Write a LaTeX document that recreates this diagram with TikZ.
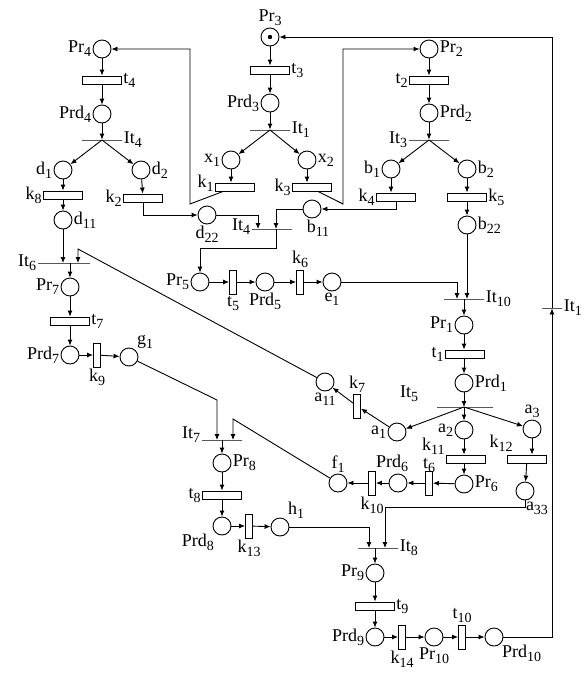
\documentclass[tikz,border=0pt]{standalone}
\usepackage{fontspec}
\setmainfont{Liberation Serif}
\usetikzlibrary{arrows.meta,positioning}
\newcommand{\sub}[1]{\raisebox{-4pt}{\fontsize{14}{14}\selectfont#1}}

\begin{document}
\begin{tikzpicture}[
 x=1pt, y=-1pt, >={Latex[length=6pt,width=5pt]}, line width=0.9pt,
 font=\fontsize{18}{20}\selectfont,
 place/.style={draw, circle, minimum size=18pt, inner sep=0pt},
 hbar/.style={draw, rectangle, minimum width=39pt, minimum height=8pt, inner sep=0pt},
 vbar/.style={draw, rectangle, minimum width=7pt, minimum height=24pt, inner sep=0pt},
 imm/.style={draw, rectangle, minimum width=40pt, minimum height=0pt, inner sep=0pt},
 every label/.style={inner sep=1pt},
 every edge/.style={draw, ->}]
\useasboundingbox (0,0) rectangle (586,675);
% left branch
\node[place, label=left:Pr\sub{4}] (Pr4) at (102,49) {};
\node[hbar, label=right:t\sub{4}] (t4) at (102,80) {};
\node[place, label=left:Prd\sub{4}] (Prd4) at (102,114) {};
\node[imm, label=right:It\sub{4}] (It4a) at (102,140) {};
\node[place, label=left:d\sub{1}] (d1) at (63,170) {};
\node[place, label=right:d\sub{2}] (d2) at (141,170) {};
\node[hbar, label=left:k\sub{8}] (k8) at (63,195) {};
\node[hbar, label=left:k\sub{2}] (k2) at (143,198) {};
\node[place, label=right:d\sub{11}] (d11) at (63,220) {};
% Pr3 branch
\node[place, label=above:Pr\sub{3}] (Pr3) at (270,37) {};
\fill (Pr3) circle (2.2pt);
\node[hbar, label=right:t\sub{3}] (t3) at (270,70) {};
\node[place, label=left:Prd\sub{3}] (Prd3) at (270,103) {};
\node[imm, label=right:It\sub{1}] (It1) at (270,130) {};
\node[place, label=left:x\sub{1}] (x1) at (231,160) {};
\node[place, label=right:x\sub{2}] (x2) at (307,160) {};
\node[hbar, label={[yshift=4pt]left:k\sub{1}}] (k1) at (235,187) {};
\node[hbar, label=left:k\sub{3}] (k3) at (312,187) {};
\node[place, label=below:d\sub{22}] (d22) at (207,215) {};
\node[place, label={[xshift=6pt]below:b\sub{11}}] (b11) at (312,209) {};
\node[imm, label={[yshift=2pt]left:It\sub{4}}] (It4b) at (272,229) {};
\coordinate (cL) at (190,204);
\coordinate (cR) at (343,204);
% Pr2 branch
\node[place, label=right:Pr\sub{2}] (Pr2) at (429,49) {};
\node[hbar, label=left:t\sub{2}] (t2) at (429,80) {};
\node[place, label=right:Prd\sub{2}] (Prd2) at (429,113) {};
\node[imm, label=left:It\sub{3}] (It3) at (429,140) {};
\node[place, label=left:b\sub{1}] (b1) at (391,169) {};
\node[place, label=right:b\sub{2}] (b2) at (467,169) {};
\node[hbar, label=left:k\sub{4}] (k4) at (396,197) {};
\node[hbar, label=right:k\sub{5}] (k5) at (467,197) {};
\node[place, label=right:b\sub{22}] (b22) at (467,225) {};
% middle row
\node[place, label=left:Pr\sub{5}] (Pr5) at (200,282) {};
\node[vbar, label=below:t\sub{5}] (t5) at (233,282) {};
\node[place, label=below:Prd\sub{5}] (Prd5) at (265,282) {};
\node[vbar, label=above:k\sub{6}] (k6) at (300,282) {};
\node[place, label=below:e\sub{1}] (e1) at (332,282) {};
% Pr1 column
\node[imm, label=right:It\sub{10}] (It10) at (464,299) {};
\node[place, label=left:Pr\sub{1}] (Pr1) at (464,325) {};
\node[hbar, label=left:t\sub{1}] (t1) at (465,354) {};
\node[place, label=right:Prd\sub{1}] (Prd1) at (464,383) {};
\node[imm, minimum width=56pt, label={[xshift=-45pt, yshift=3pt]above left:It\sub{5}}] (It5) at (465,407) {};
\node[place, label=left:a\sub{1}] (a1) at (397,432) {};
\node[place, label=left:a\sub{2}] (a2) at (464,430) {};
\node[place, label=above:a\sub{3}] (a3) at (532,429) {};
\node[vbar, label=above:k\sub{7}] (k7) at (357,406) {};
\node[place, label=below:a\sub{11}] (a11) at (325,382) {};
\node[hbar, label={[yshift=13pt]left:k\sub{11}}] (k11) at (466,459) {};
\node[hbar, label={[xshift=7pt, yshift=16pt]left:k\sub{12}}] (k12) at (527,459) {};
\node[place, label=right:Pr\sub{6}] (Pr6) at (464,484) {};
\node[place, label={[xshift=12pt]below:a\sub{33}}] (a33) at (525,491) {};
\node[vbar, label={[yshift=-4pt]above:t\sub{6}}] (t6) at (429,483) {};
\node[place, label={[xshift=-6pt]above:Prd\sub{6}}] (Prd6) at (398,483) {};
\node[vbar, label=below:k\sub{10}] (k10) at (372,483) {};
\node[place, label=above:f\sub{1}] (f1) at (338,483) {};
% Pr7 column
\node[imm, minimum width=52pt, label=left:It\sub{6}] (It6) at (64,263) {};
\node[place, label=left:Pr\sub{7}] (Pr7) at (70,287) {};
\node[hbar, label=right:t\sub{7}] (t7) at (70,321) {};
\node[place, label=left:Prd\sub{7}] (Prd7) at (70,355) {};
\node[vbar, label=below:k\sub{9}] (k9) at (97,355) {};
\node[place, label=above right:g\sub{1}] (g1) at (129,357) {};
\coordinate (cA) at (78,249);
% Pr8 column
\coordinate (cG) at (217,400);
\coordinate (cF) at (233,419);
\node[imm, label={[yshift=5pt]left:It\sub{7}}] (It7) at (222,440) {};
\node[place, label=right:Pr\sub{8}] (Pr8) at (222,463) {};
\node[hbar, label=left:t\sub{8}] (t8) at (222,495) {};
\node[place, label=below left:Prd\sub{8}] (Prd8) at (222,526) {};
\node[vbar, label=below:k\sub{13}] (k13) at (249,526) {};
\node[place, label=above right:h\sub{1}] (h1) at (280,527) {};
% bottom row
\node[imm, label=right:It\sub{8}] (It8) at (378,548) {};
\node[place, label=left:Pr\sub{9}] (Pr9) at (375,573) {};
\node[hbar, label=right:t\sub{9}] (t9) at (375,606) {};
\node[place, label=left:Prd\sub{9}] (Prd9) at (375,637) {};
\node[vbar, label=below:k\sub{14}] (k14) at (402,637) {};
\node[place, label=below:Pr\sub{10}] (Pr10) at (434,637) {};
\node[vbar, label=above:t\sub{10}] (t10) at (462,637) {};
\node[place, label=below right:Prd\sub{10}] (Prd10) at (494,637) {};
\node[imm, minimum width=20pt, label=right:It\sub{1}] (It1r) at (552,308) {};

% arcs
\draw (Pr4) edge (t4) (t4) edge (Prd4) (Prd4) edge (It4a);
\draw (It4a.center) edge (d1) (It4a.center) edge (d2);
\draw (d1) edge (k8) (k8) edge (d11) (d11) edge (d11 |- It6) (d2) edge (k2);
\draw[->] (k2) |- (d22);
\draw[->] (d22) -| ([xshift=-14pt]It4b.center);
\draw[->] (b11) -| ([xshift=4pt]It4b.center);
\draw[->] ([xshift=4pt]It4b.center) -- ++(0,19) -| (Pr5);
\draw (Pr3) edge (t3) (t3) edge (Prd3) (Prd3) edge (It1);
\draw (It1.center) edge (x1) (It1.center) edge (x2);
\draw (x1) edge (x1 |- k1.north) (x2) edge (x2 |- k3.north);
\draw[->] ([xshift=8pt]k1.south west) -- (cL) |- (Pr4);
\draw[->] ([xshift=-14pt]k3.south east) -- (cR) |- (Pr2);
\draw (Pr2) edge (t2) (t2) edge (Prd2) (Prd2) edge (It3);
\draw (It3.center) edge (b1) (It3.center) edge (b2);
\draw (b1) edge (b1 |- k4.north) (b2) edge (k5) (k5) edge (b22);
\draw[->] (k4) |- (b11);
\draw (Pr5) edge (t5) (t5) edge (Prd5) (Prd5) edge (k6) (k6) edge (e1);
\draw[->] (e1) -| ([xshift=-7pt]It10.center);
\draw (b22) edge (b22 |- It10) (It10.center) edge (Pr1);
\draw (Pr1) edge (Pr1 |- t1.north) (Pr1 |- t1.south) edge (Prd1) (Prd1) edge (Prd1 |- It5);
\draw (It5.center -| Prd1) edge (a1) (It5.center -| Prd1) edge (a2) (It5.center -| Prd1) edge (a3);
\draw (a1) edge (k7) (k7) edge (a11);
\draw[->] (a11) -- (cA) -- ([xshift=14pt]It6.center);
\draw (a2) edge (a2 |- k11.north) (a2 |- k11.south) edge (Pr6);
\draw (a3) edge (a3 |- k12.north) (k12) edge (a33);
\draw (Pr6) edge (t6) (t6) edge (Prd6) (Prd6) edge (k10) (k10) edge (f1);
\draw[->] (a33) -- ++(0,16) -| ([xshift=7pt]It8.center);
\draw ([xshift=6pt]It6.center) edge (Pr7);
\draw (Pr7) edge (t7) (t7) edge (Prd7) (Prd7) edge (k9) (k9) edge (g1);
\draw[->] (g1) -- (cG) -- ([xshift=-5pt]It7.center);
\draw[->] (f1) -- (cF) -- ([xshift=11pt]It7.center);
\draw (It7.center) edge (Pr8);
\draw (Pr8) edge (t8) (t8) edge (Prd8) (Prd8) edge (k13) (k13) edge (h1);
\draw[->] (h1) -| ([xshift=-9pt]It8.center);
\draw ([xshift=-3pt]It8.center) edge (Pr9);
\draw (Pr9) edge (t9) (t9) edge (Prd9) (Prd9) edge (k14) (k14) edge (Pr10) (Pr10) edge (t10) (t10) edge (Prd10);
\draw[->] (Prd10) -| (It1r);
\draw[->] (It1r.center) |- (Pr3);
\end{tikzpicture}
\end{document}
